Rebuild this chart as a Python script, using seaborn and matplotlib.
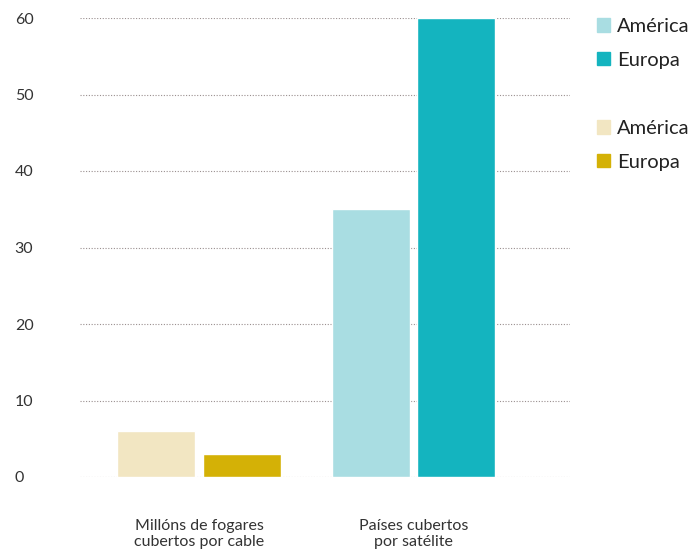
import pandas as pd
import matplotlib.pyplot as plt
import matplotlib.patches as mpatches
import seaborn as sns

# Data
grupos = ['Millóns de fogares\ncubertos por cable', 'Países cubertos\npor satélite']
rexions = ['América', 'Europa']
cable_valores = [6, 3]
satelite_valores = [35, 60]
yticks = [0, 10, 20, 30, 40, 50, 60]

cores_cable = ['#f2e6c2', '#d4b106']
cores_satelite = ['#a9dde2', '#14b4bf']

df_cable = pd.DataFrame({'grupo': grupos[0], 'rexion': rexions, 'valor': cable_valores})
df_sat = pd.DataFrame({'grupo': grupos[1], 'rexion': rexions, 'valor': satelite_valores})

sns.set_style('white')
plt.rcParams['font.family'] = ['Lato', 'DejaVu Sans']

fig = plt.figure(figsize=(6.99, 5.54), dpi=100)
ax = fig.add_axes([80 / 699, 1 - 477 / 554, 490 / 699, 459 / 554])

for df, cores in [(df_cable, cores_cable), (df_sat, cores_satelite)]:
    sns.barplot(data=df, x='grupo', y='valor', hue='rexion', order=grupos,
                hue_order=rexions, palette=cores, saturation=1, width=0.8, gap=0.09,
                ax=ax, legend=False, zorder=3)

ax.set_xlim(-0.556, 1.73)
ax.set_ylim(0, 60)
ax.set_yticks(yticks)
ax.set_xlabel('')
ax.set_ylabel('')
for y in yticks:
    ax.axhline(y, color='#9a8f8f', linestyle=(0, (1, 1.5)), lw=0.8, zorder=1)
for s in ax.spines.values():
    s.set_visible(False)
ax.tick_params(axis='y', length=0, pad=47, labelsize=11.5, labelcolor='#333333')
ax.tick_params(axis='x', length=0, pad=30, labelsize=11.5, labelcolor='#333333')
for lbl in ax.get_yticklabels():
    lbl.set_horizontalalignment('left')

# two stacked legends: satellite colours on top, cable colours below
for cores, ytop in [(cores_satelite, 0), (cores_cable, 102)]:
    handles = [mpatches.Patch(color=c, label=r) for c, r in zip(cores, rexions)]
    fig.legend(handles=handles, loc='upper left',
               bbox_to_anchor=(579 / 699, 1 - ytop / 554),
               frameon=False, fontsize=14.5, handlelength=0.65, handleheight=0.65,
               handletextpad=0.35, labelspacing=0.82, labelcolor='#222222')

fig.savefig('out.png', dpi=100)
